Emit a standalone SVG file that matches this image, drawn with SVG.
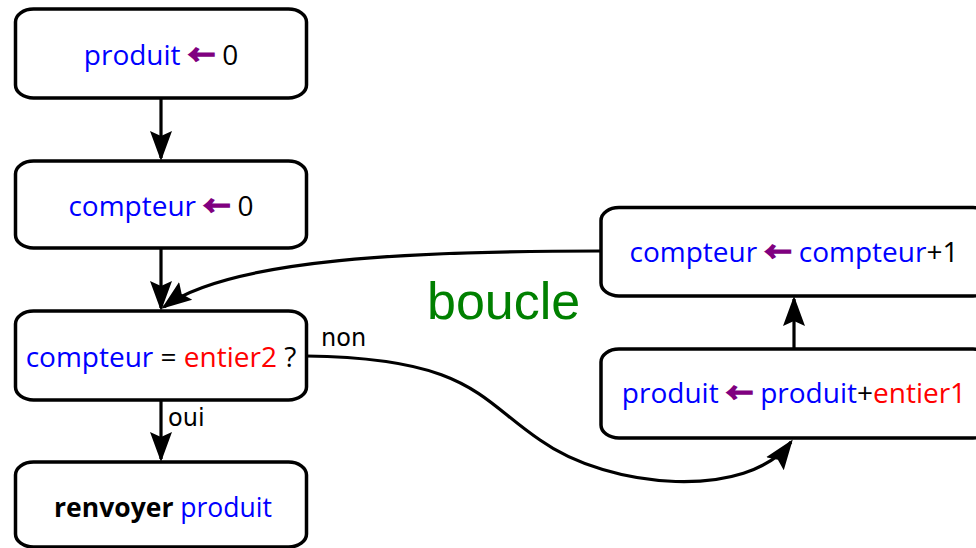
<svg xmlns="http://www.w3.org/2000/svg" width="976" height="548" viewBox="0 0 976 548">
<defs>
<style>
.box{fill:#fff;stroke:#000;stroke-width:3.5}
.t{font-family:"Open Sans","DejaVu Sans",sans-serif;font-size:28px;text-anchor:middle;fill:#000}
.v{fill:#0000ff}
.r{fill:#ff0000}
.a{fill:#800080;stroke:#800080;stroke-width:1.6;font-weight:bold;font-family:"Noto Sans CJK SC","DejaVu Sans",sans-serif;font-size:27px}
.lbl{font-family:"DejaVu Sans","Open Sans",sans-serif;font-size:24px;fill:#000}
.edge{fill:none;stroke:#000;stroke-width:3.2}
</style>
<marker id="ah" markerUnits="userSpaceOnUse" viewBox="0 -12 32 24" markerWidth="32" markerHeight="24" refX="27" refY="0" orient="auto">
<path d="M30,0 L0,-11 L5,0 L0,11 Z" fill="#000"/>
</marker>
</defs>
<g id="connectors">
<path class="edge" d="M161,98 L161,158" marker-end="url(#ah)"/>
<path class="edge" d="M161,248 L161,308" marker-end="url(#ah)"/>
<path class="edge" d="M161,400 L161,459" marker-end="url(#ah)"/>
<path class="edge" d="M794,349 L794,299" marker-end="url(#ah)"/>
<path class="edge" d="M601,251 C420,251 230,258 164,307" marker-end="url(#ah)"/>
<path class="edge" d="M306,356 C470,358 480,400 540,440 C610,490 748,500 791,442" marker-end="url(#ah)"/>
</g>
<g id="n1">
<rect class="box" x="15.5" y="9" width="291" height="89" rx="18" ry="13"/>
<text class="t" x="161" y="65"><tspan class="v">produit</tspan> <tspan class="a">←</tspan> 0</text>
</g>
<g id="n2">
<rect class="box" x="15.5" y="161" width="291" height="87" rx="18" ry="13"/>
<text class="t" x="161" y="216"><tspan class="v">compteur</tspan> <tspan class="a">←</tspan> 0</text>
</g>
<g id="n3">
<rect class="box" x="15.5" y="311" width="291" height="89" rx="18" ry="13"/>
<text class="t" x="161" y="367"><tspan class="v">compteur</tspan> = <tspan class="r">entier2</tspan> ?</text>
</g>
<g id="n4">
<rect class="box" x="15.5" y="462" width="291" height="85" rx="18" ry="13"/>
<text class="t" x="163" y="517" style="font-size:26.5px"><tspan font-weight="bold">renvoyer</tspan> <tspan class="v">produit</tspan></text>
</g>
<g id="n5">
<rect class="box" x="601" y="207.5" width="390" height="88.5" rx="18" ry="13"/>
<text class="t" x="794" y="262"><tspan class="v">compteur</tspan> <tspan class="a">←</tspan> <tspan class="v">compteur</tspan>+1</text>
</g>
<g id="n6">
<rect class="box" x="601" y="349" width="390" height="89" rx="18" ry="13"/>
<text class="t" x="794" y="403"><tspan class="v">produit</tspan> <tspan class="a">←</tspan> <tspan class="v">produit</tspan>+<tspan class="r">entier1</tspan></text>
</g>
<text class="lbl" x="321" y="346">non</text>
<text class="lbl" x="168" y="426">oui</text>
<text x="427" y="319" font-family="Liberation Sans, Arial, sans-serif" font-size="52" fill="#008000">boucle</text>
</svg>
